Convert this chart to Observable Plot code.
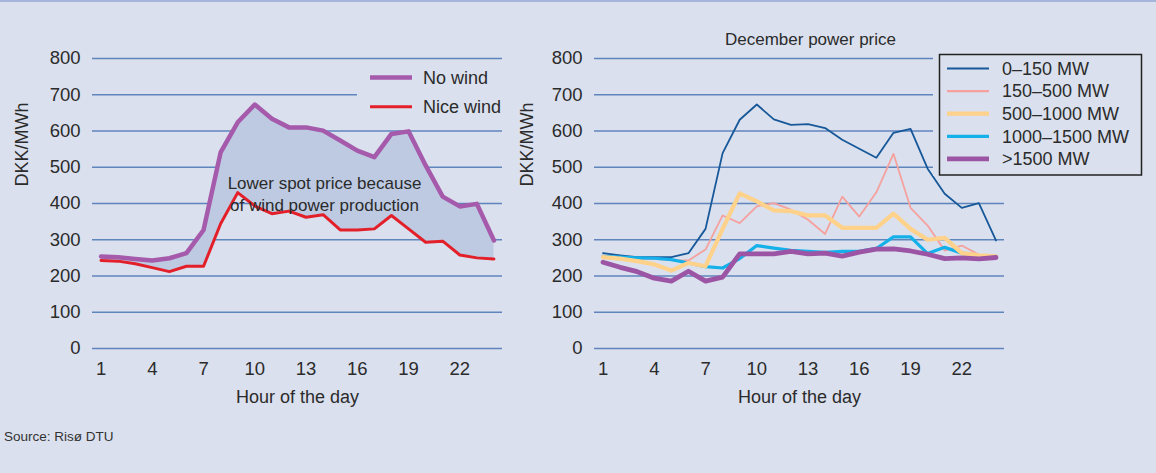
<!DOCTYPE html>
<html><head><meta charset="utf-8">
<script src="https://cdn.jsdelivr.net/npm/d3@7"></script>
<script src="https://cdn.jsdelivr.net/npm/@observablehq/plot@0.6"></script>
<style>
html,body{margin:0;padding:0;background:#dae0ed;}
#wrap{position:relative;width:1156px;height:473px;background:#dae0ed;overflow:hidden;font-family:"Liberation Sans",Arial,sans-serif;color:#2e2e2e;}
#wrap svg{position:absolute;top:0;}
#topline{position:absolute;left:0;top:0;width:1156px;height:2px;background:#a6b6da;}
#source{position:absolute;left:4px;top:429px;font-size:13.5px;color:#333;white-space:nowrap;}
</style></head><body><div id="wrap"><div id="topline"></div><div id="source">Source: Risø DTU</div></div>
<script>
// ---------- data ----------
const hours = d3.range(1, 25);
const hourTicks = [1, 4, 7, 10, 13, 16, 19, 22];
const priceTicks = [0, 100, 200, 300, 400, 500, 600, 700, 800];

// left chart
const noWind   = [254, 252, 247, 243, 249, 263, 327, 541, 624, 673, 634, 610, 610, 601, 574, 546, 528, 592, 599, 505, 419, 392, 399, 298];
const niceWind = [243, 241, 234, 223, 212, 227, 227, 344, 430, 393, 372, 379, 362, 369, 327, 327, 330, 367, 330, 293, 296, 258, 250, 247];
const leftNames = ["No wind", "Nice wind"];
const leftColors = ["#a55aab", "#e3202a"];
const leftWidths = [4.5, 3];
const annotationText = ["Lower spot price because", "of wind power production"];
const annotationAt = [14.08, 428]; // hour, DKK/MWh

// right chart (December power price by wind production)
const mw0_150     = [263, 257, 252, 252, 252, 263, 330, 539, 631, 673, 632, 617, 619, 608, 576, 551, 526, 595, 606, 496, 427, 388, 401, 298];
const mw150_500   = [256, 252, 248, 247, 244, 243, 273, 367, 346, 392, 401, 383, 355, 316, 419, 364, 431, 537, 388, 339, 270, 284, 259, 254];
const mw500_1000  = [252, 248, 241, 232, 215, 236, 227, 330, 428, 406, 381, 379, 367, 367, 333, 333, 333, 372, 330, 300, 305, 263, 257, 254];
const mw1000_1500 = [254, 252, 250, 249, 245, 236, 226, 222, 248, 284, 277, 271, 268, 265, 268, 268, 276, 308, 308, 262, 279, 263, 257, 254];
const mwOver1500  = [238, 224, 212, 194, 186, 213, 186, 197, 261, 261, 261, 268, 261, 263, 255, 266, 274, 275, 269, 260, 248, 250, 247, 251];
const rightNames  = ["0–150 MW", "150–500 MW", "500–1000 MW", "1000–1500 MW", ">1500 MW"];
const rightSeries = [mw0_150, mw150_500, mw500_1000, mw1000_1500, mwOver1500];
const rightColors = ["#17589a", "#f5a19e", "#fed28a", "#14b0ea", "#9c55a4"];
const rightWidths = [1.8, 1.8, 4.2, 3.2, 4.8];
const drawOrder = [0, 1, 3, 2, 4];

// ---------- shared ----------
const bg = "#dae0ed";
const gridColor = "#5f85bd";
const ink = "#2b2b2b";
const xDomain = [d3.min(hours) - 0.5, d3.max(hours) + 0.5];
const yDomain = d3.extent(priceTicks);
const baseStyle = {fontFamily: '"Liberation Sans", Arial, sans-serif', fontSize: "18px", color: ink, background: "transparent", overflow: "visible"};

function frameMarks(opts) {
  return [
    Plot.ruleY(priceTicks, {y: d => d, stroke: gridColor, strokeWidth: 1.6}),
    Plot.axisY(priceTicks, {tickSize: 0, tickPadding: 12, label: null, fontSize: 18.5}),
    Plot.axisX(hourTicks, {tickSize: 0, tickPadding: 13, label: null, fontSize: 18.5}),
    Plot.text(["Hour of the day"], {text: d => d, frameAnchor: "bottom", dy: 49, lineAnchor: "middle", fontSize: 18, fill: ink}),
    Plot.text(["DKK/MWh"], {text: d => d, frameAnchor: "left", dx: opts.ylabDx, dy: -17, rotate: -90, lineAnchor: "middle", fontSize: 18, fill: ink})
  ];
}

const wrap = document.getElementById("wrap");

// ---------- left chart ----------
const leftData = hours.map((h, i) => ({hour: h, noWind: noWind[i], niceWind: niceWind[i]}));
const left = Plot.plot({
  width: 540, height: 420,
  marginLeft: 92, marginRight: 38, marginTop: 58, marginBottom: 72,
  x: {type: "linear", domain: xDomain},
  y: {domain: yDomain},
  style: baseStyle,
  marks: [
    ...frameMarks({ylabDx: -70}),
    Plot.areaY(leftData, {x: "hour", y1: "niceWind", y2: "noWind", fill: "#bdcae2"}),
    Plot.lineY(leftData, {x: "hour", y: "niceWind", stroke: leftColors[1], strokeWidth: leftWidths[1]}),
    Plot.lineY(leftData, {x: "hour", y: "noWind", stroke: leftColors[0], strokeWidth: leftWidths[0]}),
    Plot.text([{hour: annotationAt[0], value: annotationAt[1], label: annotationText.join("\n")}],
      {x: "hour", y: "value", text: "label", fontSize: 17, lineHeight: 1.27, lineAnchor: "middle", fill: ink})
  ]
});
left.style.left = "0px";
wrap.appendChild(left);

// ---------- right chart ----------
const rightData = [];
rightSeries.forEach((vals, s) => vals.forEach((v, i) => rightData.push({hour: hours[i], value: v, series: rightNames[s], s})));
const right = Plot.plot({
  width: 656, height: 420,
  marginLeft: 94, marginRight: 152, marginTop: 58, marginBottom: 72,
  x: {type: "linear", domain: xDomain},
  y: {domain: yDomain},
  style: baseStyle,
  marks: [
    ...frameMarks({ylabDx: -67}),
    ...drawOrder.map(s => Plot.lineY(rightData.filter(d => d.s === s), {x: "hour", y: "value", stroke: rightColors[s], strokeWidth: rightWidths[s]})),
    Plot.text(["December power price"], {text: d => d, frameAnchor: "top", dx: 11, dy: -19, lineAnchor: "middle", fontSize: 17, fill: ink})
  ]
});
right.style.left = "500px";
wrap.appendChild(right);

// ---------- legends ----------
const ov = d3.select(wrap).append("svg")
  .attr("width", 1156).attr("height", 473)
  .style("left", "0px").style("pointer-events", "none")
  .style("font-family", '"Liberation Sans", Arial, sans-serif').style("font-size", "18px");

// left legend
ov.append("rect").attr("x", 357).attr("y", 64).attr("width", 150).attr("height", 54).attr("fill", bg);
const lg = ov.append("g").selectAll("g").data(leftNames).join("g")
  .attr("transform", (d, i) => `translate(0,${77.5 + i * 29.2})`);
lg.append("line").attr("x1", 370).attr("x2", 412).attr("stroke", (d, i) => leftColors[i]).attr("stroke-width", (d, i) => leftWidths[i]);
lg.append("text").attr("x", 423).attr("dy", "0.35em").attr("fill", ink).text(d => d);

// right legend
ov.append("rect").attr("x", 933).attr("y", 50).attr("width", 220).attr("height", 126).attr("fill", bg);
ov.append("rect").attr("x", 939.5).attr("y", 54.5).attr("width", 202).attr("height", 120.5)
  .attr("fill", "none").attr("stroke", "#222").attr("stroke-width", 1.5);
const rg = ov.append("g").selectAll("g").data(rightNames).join("g")
  .attr("transform", (d, i) => `translate(0,${68.5 + i * 22.6})`);
rg.append("line").attr("x1", 947).attr("x2", 989).attr("stroke", (d, i) => rightColors[i])
  .attr("stroke-width", (d, i) => Math.max(2.2, rightWidths[i]));
rg.append("text").attr("x", 1002).attr("dy", "0.35em").attr("fill", ink).text(d => d);
</script>
</body></html>
